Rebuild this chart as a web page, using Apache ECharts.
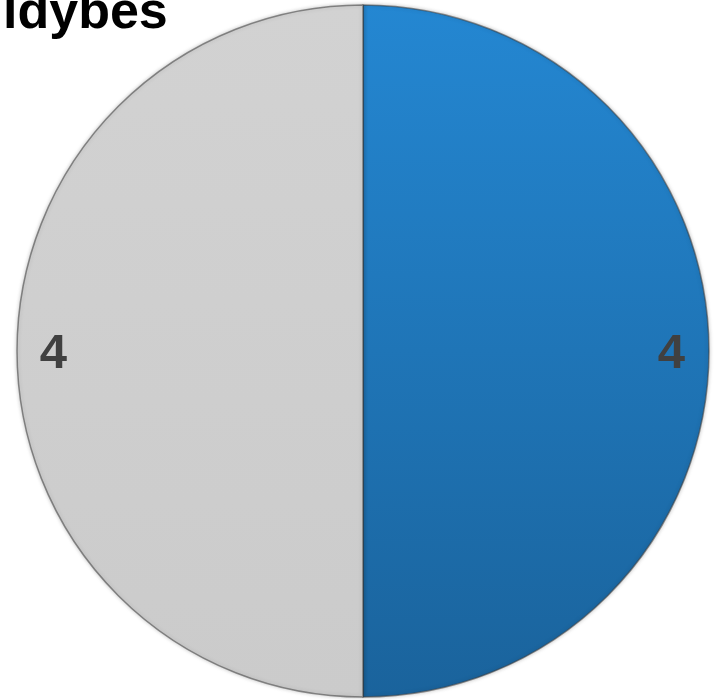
<!DOCTYPE html>
<html><head><meta charset="utf-8">
<script src="https://cdn.jsdelivr.net/npm/echarts@6/dist/echarts.min.js"></script>
<style>html,body{margin:0;padding:0;background:#fff}#c{width:720px;height:700px}</style>
</head><body><div id="c"></div>
<script>
const titleText = 'ldybes';
const categories = ['Ja', 'Nej'];
const values = [4, 4];

const chart = echarts.init(document.getElementById('c'));
const sliceColors = [
  new echarts.graphic.LinearGradient(0, 0, 0, 1, [{offset: 0, color: '#2487d2'}, {offset: 1, color: '#1a639c'}]),
  new echarts.graphic.LinearGradient(0, 0, 0, 1, [{offset: 0, color: '#d2d2d2'}, {offset: 1, color: '#cbcbcb'}])
];
const data = categories.map((c, i) => ({name: c, value: values[i], itemStyle: {color: sliceColors[i]}}));
chart.setOption({
  animation: false,
  title: {text: titleText, left: -2, top: -17, textStyle: {fontFamily: 'Liberation Sans', fontWeight: 'bold', fontSize: 52, color: '#000'}},
  series: [
    {
      type: 'pie', center: [363, 351], radius: 346, startAngle: 90, clockwise: true,
      data: data,
      label: {show: false}, labelLine: {show: false},
      itemStyle: {borderColor: 'rgba(60,60,60,0.55)', borderWidth: 1.5, shadowColor: 'rgba(0,0,0,0.25)', shadowBlur: 4},
      silent: true
    },
    {
      type: 'pie', center: [362.5, 354], radius: [266, 346], startAngle: 90, clockwise: true,
      data: categories.map((c, i) => ({name: c, value: values[i]})),
      itemStyle: {color: 'transparent'},
      label: {show: true, position: 'inside', formatter: '{c}', fontFamily: 'Liberation Sans', fontWeight: 'bold', fontSize: 49, color: '#404040'},
      labelLine: {show: false},
      silent: true
    }
  ]
});
</script></body></html>
